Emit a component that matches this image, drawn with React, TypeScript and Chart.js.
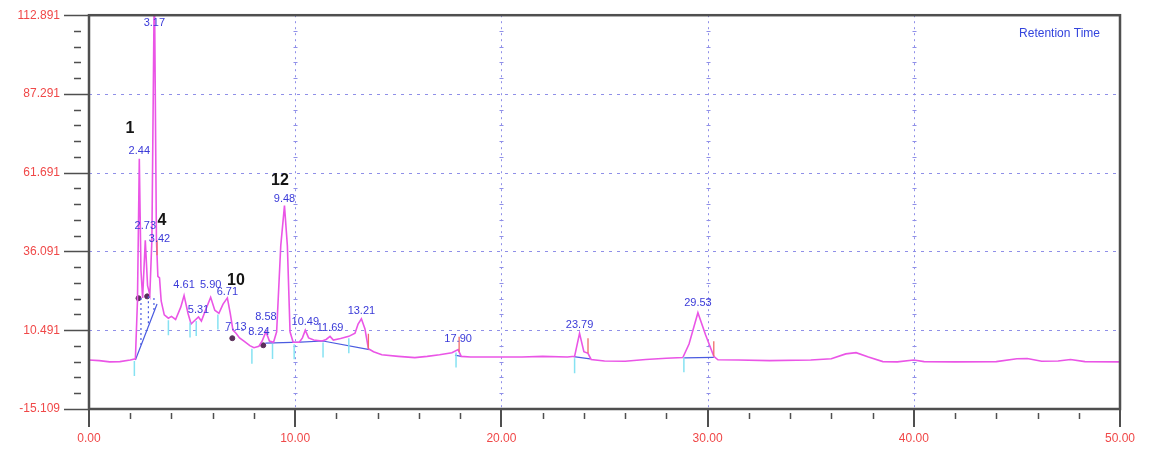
import { useEffect, useRef } from 'react';
import { Chart, registerables } from 'chart.js';

Chart.register(...registerables);

// ---- data ----
const TIME = [
  0.0, 0.5, 1.0, 1.5, 2.0, 2.25, 2.35, 2.44, 2.52, 2.6, 2.73, 2.84, 2.95, 3.05, 3.17, 3.27, 3.34, 3.42, 3.5,
  3.65, 3.85, 4.0, 4.2, 4.45, 4.61, 4.8, 4.95, 5.1, 5.31, 5.45, 5.65, 5.9, 6.1, 6.3, 6.5, 6.71, 6.85, 6.98,
  7.13, 7.3, 7.5, 7.8, 8.0, 8.24, 8.4, 8.58, 8.75, 8.95, 9.1, 9.3, 9.48, 9.62, 9.75, 9.9, 10.2, 10.35, 10.49,
  10.65, 10.9, 11.3, 11.5, 11.69, 11.85, 12.2, 12.6, 12.9, 13.05, 13.21, 13.38, 13.55, 13.8, 14.2, 15.0, 15.8,
  16.4, 17.0, 17.6, 17.9, 18.05, 18.5, 19.3, 20.0, 21.0, 22.0, 23.2, 23.55, 23.79, 24.0, 24.2, 24.35, 25.0,
  26.0, 27.0, 28.0, 28.8, 29.1, 29.53, 29.9, 30.3, 30.5, 31.5, 33.0, 35.0, 36.0, 36.7, 37.2, 37.8, 38.5, 39.2,
  40.0, 40.5, 42.0, 44.0, 45.0, 45.5, 46.2, 47.0, 47.6, 48.3, 50.0,
];
const SIGNAL = [
  0.8, 0.6, 0.2, 0.3, 0.8, 1.2, 20, 66.2, 30, 21, 39.7, 25, 22, 40, 125, 40, 28, 27.5, 20,
  15.5, 14.4, 15, 14, 18, 21.8, 16, 12.5, 13.5, 14.8, 13.5, 17, 21.2, 17, 16, 19, 21, 16, 10.5,
  9.5, 8, 7, 5.5, 4.8, 5.3, 7, 10, 7, 6.6, 10, 38, 51, 38, 10, 6.6, 6.6, 8, 10.5,
  8, 7.3, 7.0, 7.5, 8.5, 7.3, 7.8, 8.5, 9.5, 12.5, 14.2, 11, 4.5, 3.5, 2.5, 2.0, 1.6,
  2.0, 2.5, 3.2, 4.2, 2.0, 1.8, 1.8, 1.8, 1.8, 2.0, 1.8, 2.0, 9.5, 3.5, 3.0, 1.0, 0.5,
  0.4, 1.0, 1.4, 1.6, 6, 16.2, 9, 2, 0.9, 0.8, 0.6, 0.8, 1.2, 2.8, 3.2, 1.8, 0.3, 0.2,
  0.8, 0.3, 0.2, 0.3, 1.2, 1.3, 0.4, 0.5, 1.0, 0.3, 0.2,
];

const X_TICKS = [0, 10, 20, 30, 40, 50];
const Y_TICKS = [-15.109, 10.491, 36.091, 61.691, 87.291, 112.891];

const PEAK_TIMES = [2.44, 2.73, 3.17, 3.42, 4.61, 5.31, 5.9, 6.71, 7.13, 8.24, 8.58, 9.48, 10.49, 11.69, 13.21, 17.9, 23.79, 29.53];
const PEAK_LABEL_AT = [68.8, 44.5, 110.3, 40.3, 25.1, 17.0, 25.1, 22.8, 11.5, 9.85, 14.7, 53.3, 13.1, 11.2, 16.65, 7.6, 12.1, 19.2];

const NUMBER_TEXT = ['1', '4', '10', '12'];
const NUMBER_TIMES = [1.99, 3.54, 7.13, 9.26];
const NUMBER_AT = [75.95, 46.1, 26.7, 59.1];

const START_MARK_TIMES = [2.2, 3.85, 4.9, 5.2, 6.25, 7.9, 8.9, 9.95, 11.35, 12.6, 17.8, 23.55, 28.85];
const END_MARK_TIMES = [3.3, 13.55, 17.95, 24.2, 30.3];

const BASE_T = [2.25, 3.3, null, 8.55, 10.25, 11.35, null, 11.35, 13.6, null, 17.75, 18.05, null, 23.5, 24.3, null, 28.85, 30.3];
const BASE_V = [0.8, 19, null, 6.3, 6.6, 7.0, null, 7.0, 4.2, null, 2.4, 2.0, null, 1.9, 1.2, null, 1.5, 1.7];

const DROP_TIMES = [2.52, 2.88, 3.15];
const DROP_TOP = [21, 21.5, 21];

const DOT_TIMES = [2.4, 2.82, 6.95, 8.45];
const DOT_VALUES = [20.9, 21.5, 7.9, 5.6];

const LEGEND_TEXT = 'Retention Time';

// ---- styles ----
const TRACE = '#ea55e6';
const GRID = '#8f8fe8';
const AXIS = '#4f4f4f';
const TICK_TEXT = '#f04848';
const LABEL_BLUE = '#3a3ad8';
const FONT = '"Liberation Sans", Arial, sans-serif';

function signalAt(t: number) {
  for (let i = 0; i < TIME.length - 1; i++) {
    if (t >= TIME[i] && t <= TIME[i + 1]) {
      const f = (t - TIME[i]) / (TIME[i + 1] - TIME[i]);
      return SIGNAL[i] + f * (SIGNAL[i + 1] - SIGNAL[i]);
    }
  }
  return SIGNAL[SIGNAL.length - 1];
}

function baseAt(t: number) {
  for (let i = 0; i < BASE_T.length - 1; i++) {
    const a = BASE_T[i], b = BASE_T[i + 1];
    if (a == null || b == null) continue;
    if (t >= a && t <= b) {
      const f = (t - a) / (b - a);
      return (BASE_V[i] as number) + f * ((BASE_V[i + 1] as number) - (BASE_V[i] as number));
    }
  }
  return 0;
}

function line(ctx: CanvasRenderingContext2D, x1: number, y1: number, x2: number, y2: number) {
  ctx.beginPath();
  ctx.moveTo(x1, y1);
  ctx.lineTo(x2, y2);
  ctx.stroke();
}

const decor = {
  id: 'decor',
  beforeDatasetsDraw(chart: any) {
    const { ctx, chartArea: a, scales } = chart;
    const x = scales.x, y = scales.y;
    ctx.save();
    ctx.strokeStyle = GRID;
    ctx.lineWidth = 1.2;
    ctx.setLineDash([3, 5]);
    for (const v of Y_TICKS.slice(1, -1)) {
      const py = Math.round(y.getPixelForValue(v)) + 0.5;
      line(ctx, a.left, py, a.right, py);
    }
    ctx.setLineDash([2, 4]);
    ctx.lineWidth = 1;
    for (const v of X_TICKS.slice(1, -1)) {
      const px = Math.round(x.getPixelForValue(v)) + 0.5;
      line(ctx, px, a.top, px, a.bottom);
    }
    ctx.setLineDash([]);
    for (const v of X_TICKS.slice(1, -1)) {
      const px = Math.round(x.getPixelForValue(v)) + 0.5;
      for (let i = 0; i < Y_TICKS.length - 1; i++) {
        const step = (Y_TICKS[i + 1] - Y_TICKS[i]) / 5;
        for (let k = 1; k < 5; k++) {
          const py = Math.round(y.getPixelForValue(Y_TICKS[i] + k * step)) + 0.5;
          line(ctx, px - 2, py, px + 2, py);
        }
      }
    }
    ctx.restore();
  },
  afterDatasetsDraw(chart: any) {
    const { ctx, chartArea: a, scales } = chart;
    const x = scales.x, y = scales.y;
    ctx.save();
    ctx.beginPath();
    ctx.rect(a.left, a.top, a.right - a.left, a.bottom - a.top);
    ctx.clip();

    ctx.strokeStyle = '#4a5be0';
    ctx.lineWidth = 1.2;
    ctx.setLineDash([2, 3]);
    DROP_TIMES.forEach((t, i) => {
      const px = x.getPixelForValue(t);
      line(ctx, px, y.getPixelForValue(DROP_TOP[i]), px, y.getPixelForValue(baseAt(t)));
    });
    ctx.setLineDash([]);

    ctx.strokeStyle = '#86e2f2';
    ctx.lineWidth = 1.5;
    START_MARK_TIMES.forEach((t) => {
      const px = x.getPixelForValue(t);
      const py = y.getPixelForValue(signalAt(t));
      line(ctx, px, py + 2, px, py + 17);
    });

    ctx.strokeStyle = '#ef6b6b';
    ctx.lineWidth = 1.3;
    END_MARK_TIMES.forEach((t) => {
      const px = x.getPixelForValue(t);
      const py = y.getPixelForValue(signalAt(t));
      line(ctx, px, py, px, py - 15);
    });

    ctx.textAlign = 'center';
    ctx.textBaseline = 'middle';
    ctx.fillStyle = LABEL_BLUE;
    ctx.font = `11px ${FONT}`;
    PEAK_TIMES.forEach((t, i) => {
      ctx.fillText(t.toFixed(2), x.getPixelForValue(t), y.getPixelForValue(PEAK_LABEL_AT[i]));
    });
    ctx.fillStyle = '#151515';
    ctx.font = `bold 16px ${FONT}`;
    NUMBER_TEXT.forEach((s, i) => {
      ctx.fillText(s, x.getPixelForValue(NUMBER_TIMES[i]), y.getPixelForValue(NUMBER_AT[i]));
    });

    ctx.textAlign = 'right';
    ctx.fillStyle = '#3344dd';
    ctx.font = `12px ${FONT}`;
    ctx.fillText(LEGEND_TEXT, a.right - 20, a.top + 18);
    ctx.restore();

    ctx.save();
    ctx.strokeStyle = AXIS;
    ctx.lineWidth = 1.5;
    for (const v of Y_TICKS) {
      const py = Math.round(y.getPixelForValue(v)) + 0.5;
      line(ctx, a.left - 25, py, a.left, py);
    }
    for (let i = 0; i < Y_TICKS.length - 1; i++) {
      const step = (Y_TICKS[i + 1] - Y_TICKS[i]) / 5;
      for (let k = 1; k < 5; k++) {
        const py = Math.round(y.getPixelForValue(Y_TICKS[i] + k * step)) + 0.5;
        line(ctx, a.left - 15, py, a.left - 8, py);
      }
    }
    ctx.lineWidth = 2;
    for (const v of X_TICKS) {
      const px = Math.round(x.getPixelForValue(v));
      line(ctx, px, a.bottom, px, a.bottom + 18);
    }
    ctx.lineWidth = 1.5;
    for (let i = 0; i < X_TICKS.length - 1; i++) {
      const step = (X_TICKS[i + 1] - X_TICKS[i]) / 5;
      for (let k = 1; k < 5; k++) {
        const px = Math.round(x.getPixelForValue(X_TICKS[i] + k * step)) + 0.5;
        line(ctx, px, a.bottom + 4, px, a.bottom + 10);
      }
    }
    ctx.lineWidth = 2.5;
    ctx.strokeStyle = AXIS;
    ctx.strokeRect(a.left, a.top, a.right - a.left, a.bottom - a.top);
    ctx.restore();
  },
};

export default function App() {
  const ref = useRef<HTMLCanvasElement | null>(null);
  useEffect(() => {
    if (!ref.current) return;
    const chart = new Chart(ref.current, {
      type: 'line',
      data: {
        datasets: [
          {
            data: TIME.map((t, i) => ({ x: t, y: SIGNAL[i] })),
            borderColor: TRACE,
            borderWidth: 1.6,
            pointRadius: 0,
            tension: 0,
            fill: false,
          },
          {
            data: BASE_T.map((t, i) => ({ x: t as any, y: BASE_V[i] as any })),
            borderColor: '#4a5be0',
            borderWidth: 1.2,
            pointRadius: 0,
            spanGaps: false,
            fill: false,
          },
          {
            data: DOT_TIMES.map((t, i) => ({ x: t, y: DOT_VALUES[i] })),
            showLine: false,
            pointRadius: 2.5,
            pointBackgroundColor: '#5a2f5a',
            pointBorderColor: '#5a2f5a',
          },
        ],
      },
      options: {
        animation: false,
        responsive: false,
        maintainAspectRatio: false,
        devicePixelRatio: 1,
        events: [],
        layout: { padding: { left: 0, right: 27, top: 6, bottom: 0 } },
        plugins: { legend: { display: false }, tooltip: { enabled: false }, title: { display: false } },
        scales: {
          x: {
            type: 'linear',
            min: 0,
            max: 50,
            afterBuildTicks: (s: any) => {
              s.ticks = X_TICKS.map((v) => ({ value: v }));
            },
            afterFit: (s: any) => {
              s.height = 33;
            },
            grid: { display: false, drawTicks: true, tickLength: 22 },
            border: { display: false },
            ticks: {
              autoSkip: false,
              maxRotation: 0,
              padding: 0,
              color: TICK_TEXT,
              font: { family: FONT, size: 12 },
              callback: (v: any) => Number(v).toFixed(2),
            },
          },
          y: {
            type: 'linear',
            min: Y_TICKS[0],
            max: Y_TICKS[Y_TICKS.length - 1],
            afterBuildTicks: (s: any) => {
              s.ticks = Y_TICKS.map((v) => ({ value: v }));
            },
            afterFit: (s: any) => {
              s.width = 81;
            },
            grid: { display: false, drawTicks: true, tickLength: 29 },
            border: { display: false },
            ticks: {
              autoSkip: false,
              padding: 0,
              color: TICK_TEXT,
              font: { family: FONT, size: 12 },
              callback: (v: any) => Number(v).toFixed(3),
            },
          },
        },
      },
      plugins: [decor],
    });
    return () => chart.destroy();
  }, []);
  return (
    <div style={{ width: 1139, height: 434 }}>
      <canvas ref={ref} width={1139} height={434} style={{ display: 'block' }} />
    </div>
  );
}
